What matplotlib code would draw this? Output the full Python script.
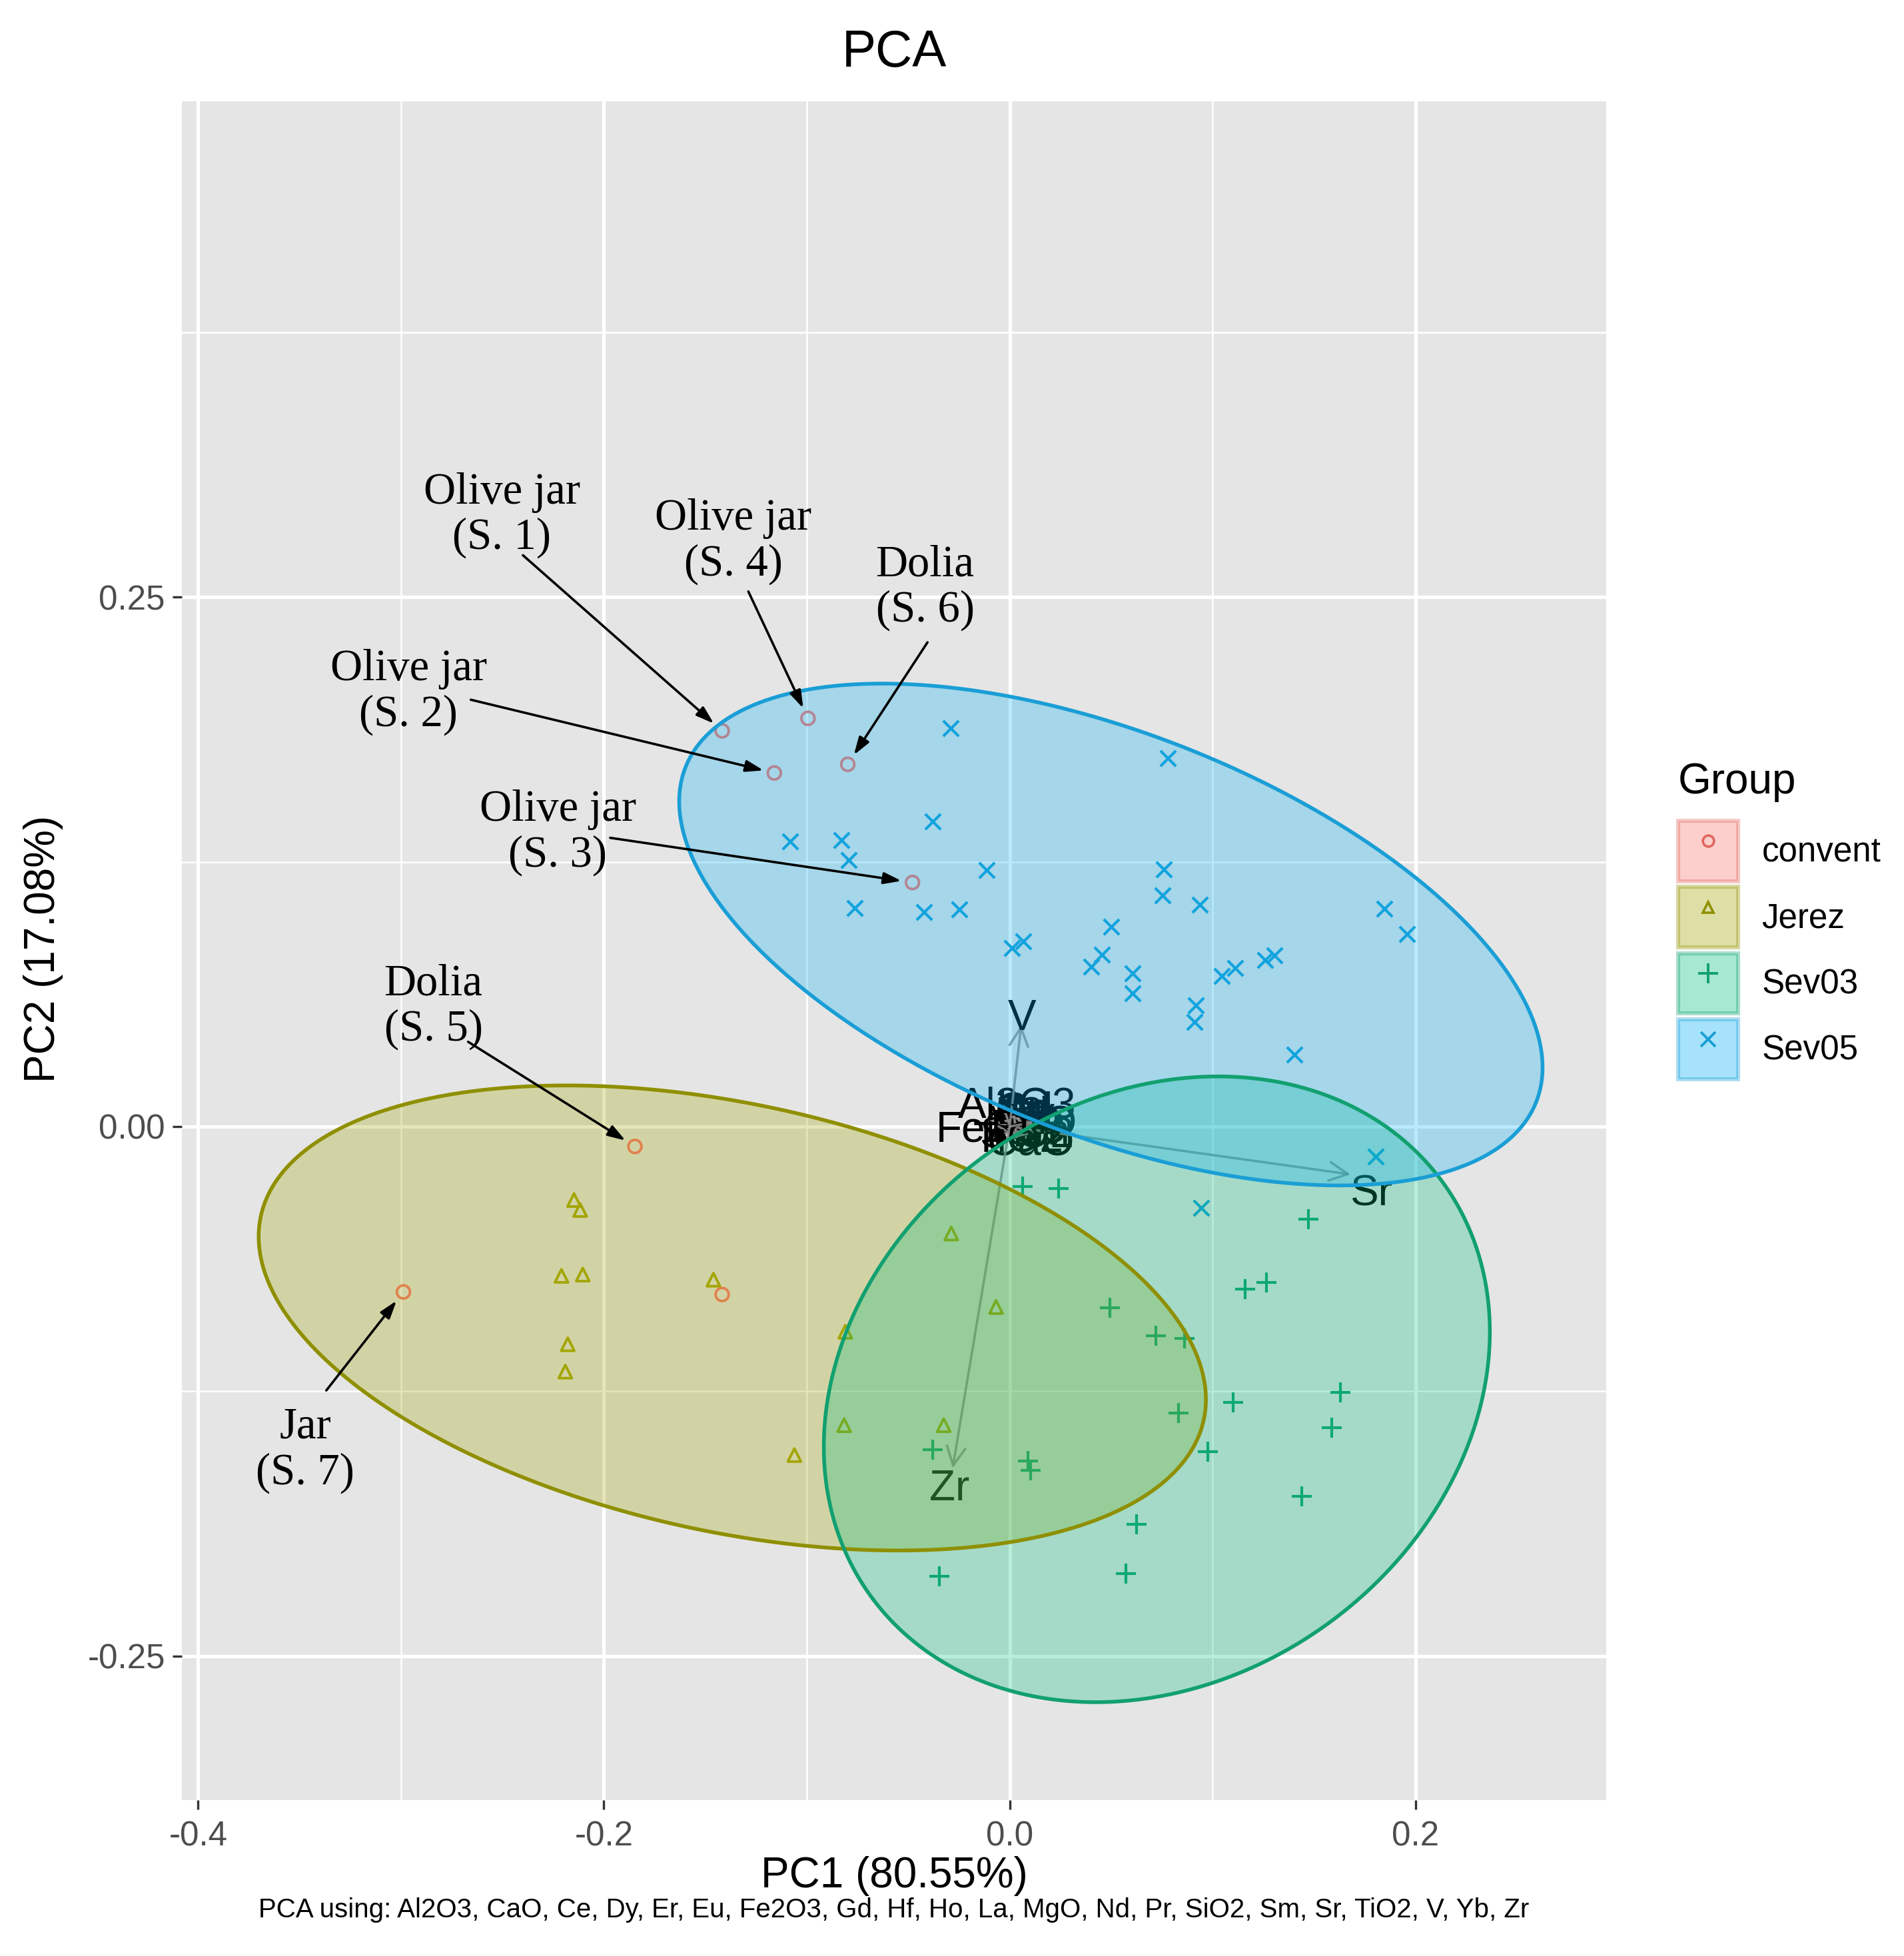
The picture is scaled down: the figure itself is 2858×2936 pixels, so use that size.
import numpy as np
import matplotlib
matplotlib.use('Agg')
import matplotlib.pyplot as plt
from matplotlib.patches import Polygon, Patch, FancyArrowPatch
from matplotlib.lines import Line2D

plt.rcParams['font.family'] = ['Liberation Sans', 'DejaVu Sans']

# scores
convent_x = [-0.1417, -0.0994, -0.0798, -0.1160, -0.0479, -0.1847, -0.2988, -0.1417]
convent_y = [0.1868, 0.1927, 0.1710, 0.1669, 0.1152, -0.0094, -0.0781, -0.0793]

jerez_x = [-0.2147, -0.2117, -0.2209, -0.2104, -0.1460, -0.2178, -0.2190,
           -0.0288, -0.0067, -0.0810, -0.0816, -0.0325, -0.1061]
jerez_y = [-0.0347, -0.0394, -0.0705, -0.0699, -0.0723, -0.1028, -0.1157,
           -0.0505, -0.0852, -0.0969, -0.1410, -0.1410, -0.1551]

sev03_x = [0.0064, 0.0242, 0.1473, 0.1159, 0.1265, 0.0493, 0.0719, 0.0863, 0.1629, 0.1101,
           0.0833, 0.1586, 0.0976, -0.0381, 0.0089, 0.0104, 0.1440, 0.0624, -0.0348, 0.0574]
sev03_y = [-0.0283, -0.0292, -0.0437, -0.0769, -0.0735, -0.0857, -0.0987, -0.1000, -0.1256, -0.1302,
           -0.1352, -0.1422, -0.1534, -0.1527, -0.1578, -0.1623, -0.1746, -0.1879, -0.2123, -0.2110]

sev05_x = [-0.0290, 0.0781, -0.0378, -0.1081, -0.0829, -0.0794, -0.0114, 0.0760, 0.0754, 0.0936,
           -0.0765, -0.0422, -0.0249, 0.1845, 0.1959, 0.0502, 0.0010, 0.0068, 0.0455, 0.0402,
           0.0605, 0.0605, 0.1047, 0.1112, 0.1258, 0.1305, 0.0918, 0.0910, 0.1405, 0.1804, 0.0943]
sev05_y = [0.1882, 0.1740, 0.1441, 0.1345, 0.1352, 0.1257, 0.1212, 0.1214, 0.1092, 0.1048,
           0.1032, 0.1011, 0.1026, 0.1027, 0.0908, 0.0944, 0.0844, 0.0873, 0.0811, 0.0755,
           0.0724, 0.0628, 0.0711, 0.0748, 0.0787, 0.0808, 0.0572, 0.0495, 0.0339, -0.0142, -0.0384]

# loadings (arrow tips)
variables = ['Al2O3', 'CaO', 'Ce', 'Dy', 'Er', 'Eu', 'Fe2O3', 'Gd', 'Hf', 'Ho', 'La',
             'MgO', 'Nd', 'Pr', 'SiO2', 'Sm', 'Sr', 'TiO2', 'V', 'Yb', 'Zr']
load_x = [0.0035, 0.0100, 0.006, 0.009, 0.010, 0.008, -0.004, 0.007, 0.002, 0.011, 0.005,
          0.010, 0.006, 0.001, 0.008, 0.013, 0.168, 0.004, 0.0057, 0.012, -0.0281]
load_y = [0.0089, -0.0078, 0.006, 0.005, 0.003, 0.004, -0.002, 0.007, -0.004, 0.004, 0.008,
          0.001, 0.005, -0.001, -0.004, -0.003, -0.0226, -0.006, 0.048, 0.002, -0.1613]

# sample annotations: label, index of convent point, text anchor, arrow tail
notes = ['Olive jar\n(S. 1)', 'Olive jar\n(S. 4)', 'Dolia\n(S. 6)', 'Olive jar\n(S. 2)',
         'Olive jar\n(S. 3)', 'Dolia\n(S. 5)', 'Jar\n(S. 7)']
note_point = [0, 1, 2, 3, 4, 5, 6]
note_text_x = [-0.2503, -0.1362, -0.0417, -0.2963, -0.2227, -0.2840, -0.3472]
note_text_y = [0.2885, 0.2761, 0.2544, 0.2051, 0.1387, 0.0564, -0.1528]
note_tail_x = [-0.2399, -0.1288, -0.0405, -0.2656, -0.1969, -0.2669, -0.3368]
note_tail_y = [0.2697, 0.2526, 0.2286, 0.2015, 0.1363, 0.0400, -0.1246]

groups = ['convent', 'Jerez', 'Sev03', 'Sev05']
colors = ['#F8766D', '#A3A500', '#00BF7D', '#00B0F6']
edge_colors = ['#E0665E', '#8F8F00', '#12A070', '#1A9ED6']
markers = ['o', '^', '+', 'x']
gx = [convent_x, jerez_x, sev03_x, sev05_x]
gy = [convent_y, jerez_y, sev03_y, sev05_y]


def ellipse_pts(x, y, level=0.95, n=300):
    pts = np.column_stack([x, y])
    c = pts.mean(axis=0)
    cov = np.cov(pts.T)
    m = len(x) - 1
    fq = m / 2 * ((1 - level) ** (-2 / m) - 1)
    r = np.sqrt(2 * fq)
    L = np.linalg.cholesky(cov)
    t = np.linspace(0, 2 * np.pi, n)
    circ = np.vstack([np.cos(t), np.sin(t)])
    return c + r * (L @ circ).T


fig = plt.figure(figsize=(14.29, 14.68), dpi=200)
ax = fig.add_axes([0.0955, 0.0797, 0.7481, 0.8685])
ax.set_facecolor('#E5E5E5')
ax.set_xlim(-0.408, 0.294)
ax.set_ylim(-0.318, 0.484)

for v in [-0.3, -0.1, 0.1]:
    ax.axvline(v, color='white', lw=0.9, zorder=0)
for v in [-0.125, 0.125, 0.375]:
    ax.axhline(v, color='white', lw=0.9, zorder=0)
for v in [-0.4, -0.2, 0.0, 0.2]:
    ax.axvline(v, color='white', lw=1.9, zorder=0)
for v in [-0.25, 0.0, 0.25]:
    ax.axhline(v, color='white', lw=1.9, zorder=0)

# points
for i in range(4):
    if markers[i] in ['o', '^']:
        ax.scatter(gx[i], gy[i], marker=markers[i], s=50, facecolors='none',
                   edgecolors=colors[i], linewidths=1.4, zorder=2)
    else:
        ax.scatter(gx[i], gy[i], marker=markers[i], s=110 if markers[i] == '+' else 70,
                   color=edge_colors[i], linewidths=1.5, zorder=2)

# loadings; labels sit just past the arrow tip, below it for the long horizontal one
for name, lx, ly in zip(variables, load_x, load_y):
    ax.add_patch(FancyArrowPatch((0, 0), (lx, ly), arrowstyle='->,head_length=0.5,head_width=0.25',
                                 mutation_scale=20, color='#8C8C8C', lw=1.3, alpha=0.85,
                                 shrinkA=0, shrinkB=0, zorder=3))
    nudge = -0.008 if lx > 0.1 else 0.0
    ax.text(lx * 1.06, ly * 1.06 + nudge, name, fontsize=23,
            ha='center', va='center', color='black', zorder=3)

# ellipses (no ellipse for convent), drawn over points and loadings
for i in [1, 2, 3]:
    e = ellipse_pts(gx[i], gy[i])
    ax.add_patch(Polygon(e, closed=True, facecolor=colors[i], alpha=0.28,
                         edgecolor='none', zorder=4))
    ax.add_patch(Polygon(e, closed=True, facecolor='none',
                         edgecolor=edge_colors[i], lw=2.0, zorder=4.5))

# sample annotations
for lab, pi, tx, ty, ax0, ay0 in zip(notes, note_point, note_text_x, note_text_y,
                                     note_tail_x, note_tail_y):
    ax.text(tx, ty, lab, family='Liberation Serif', fontsize=24, ha='center',
            va='center', linespacing=1.15, zorder=6)
    ax.annotate('', xy=(convent_x[pi], convent_y[pi]), xytext=(ax0, ay0),
                arrowprops=dict(arrowstyle='-|>,head_length=0.4,head_width=0.13',
                                color='black', lw=1.3, shrinkA=0, shrinkB=6,
                                mutation_scale=20), zorder=6)

ax.set_xticks([-0.4, -0.2, 0.0, 0.2])
ax.set_xticklabels(['-0.4', '-0.2', '0.0', '0.2'])
ax.set_yticks([-0.25, 0.0, 0.25])
ax.set_yticklabels(['-0.25', '0.00', '0.25'])
ax.tick_params(labelsize=18.4, labelcolor='#4D4D4D', color='#333333', length=5, width=1.2,
               pad=4)
ax.tick_params(axis='x', pad=6)
for s in ax.spines.values():
    s.set_visible(False)

fig.text(0.4696, 0.0410, 'PC1 (80.55%)', fontsize=23, ha='center', va='center')
fig.text(0.0228, 0.5147, 'PC2 (17.08%)', fontsize=23, ha='center', va='center', rotation=90)
fig.text(0.4696, 0.973, 'PCA', fontsize=27.6, ha='center', va='center')
fig.text(0.4696, 0.0235, 'PCA using: Al2O3, CaO, Ce, Dy, Er, Eu, Fe2O3, Gd, Hf, Ho, La, MgO, '
         'Nd, Pr, SiO2, Sm, Sr, TiO2, V, Yb, Zr', fontsize=14.5, ha='center', va='center')

# legend
handles = []
for i in range(4):
    patch = Patch(facecolor=colors[i], alpha=0.35, edgecolor=edge_colors[i], lw=2.2)
    if markers[i] in ['o', '^']:
        mk = Line2D([], [], ls='none', marker=markers[i], markersize=6, markerfacecolor='none',
                    markeredgecolor=edge_colors[i], markeredgewidth=1.3)
    else:
        mk = Line2D([], [], ls='none', marker=markers[i], markersize=11 if markers[i] == '+' else 8,
                    markeredgecolor=edge_colors[i], markeredgewidth=1.4)
    handles.append((patch, mk))
leg = fig.legend(handles, groups, title='Group', loc='upper left',
                 bbox_to_anchor=(0.8725, 0.619), frameon=False, fontsize=18.4,
                 title_fontsize=23, handlelength=1.75, handleheight=2.35, labelspacing=0.17,
                 handletextpad=0.7, borderpad=0, alignment='left')
leg._legend_box.sep = 10

fig.savefig('out.png', dpi=200)
